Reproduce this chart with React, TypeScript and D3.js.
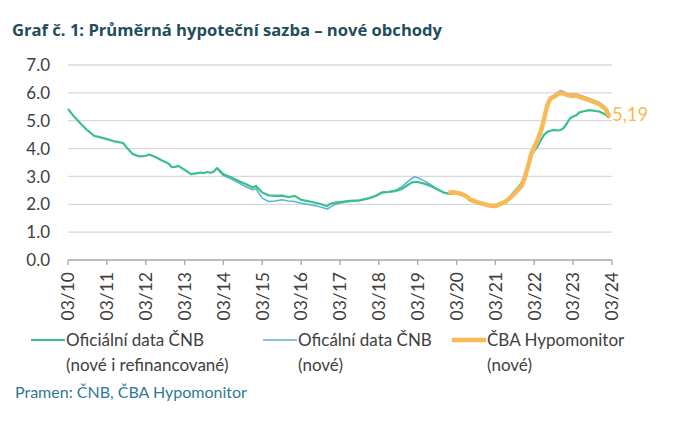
import React from "react";
import * as d3 from "d3";

// ---- data ----
const greenDates = ["2010-03","2010-05","2010-07","2010-09","2010-11","2011-01","2011-03","2011-05","2011-07","2011-08","2011-09","2011-11","2012-01","2012-03","2012-04","2012-06","2012-08","2012-10","2012-11","2012-12","2013-01","2013-03","2013-05","2013-07","2013-08","2013-09","2013-10","2013-11","2013-12","2014-01","2014-03","2014-05","2014-08","2014-10","2014-12","2015-01","2015-03","2015-05","2015-07","2015-09","2015-11","2015-12","2016-01","2016-03","2016-06","2016-09","2016-11","2016-12","2017-01","2017-03","2017-06","2017-09","2017-12","2018-02","2018-04","2018-06","2018-08","2018-10","2018-11","2019-01","2019-02","2019-03","2019-05","2019-07","2019-09","2019-11","2020-01","2020-03","2020-05","2020-07","2020-10","2021-01","2021-03","2021-05","2021-07","2021-09","2021-10","2021-11","2021-12","2022-01","2022-02","2022-03","2022-04","2022-05","2022-06","2022-07","2022-08","2022-09","2022-10","2022-11","2022-12","2023-01","2023-02","2023-03","2023-04","2023-05","2023-06","2023-08","2023-11","2024-01","2024-02"];
const greenValues = [5.42,5.13,4.88,4.65,4.46,4.40,4.34,4.27,4.22,4.20,4.05,3.80,3.72,3.74,3.79,3.70,3.57,3.46,3.33,3.34,3.38,3.24,3.08,3.12,3.14,3.12,3.16,3.13,3.18,3.30,3.08,2.99,2.82,2.72,2.60,2.66,2.42,2.32,2.30,2.31,2.26,2.28,2.30,2.16,2.09,2.01,1.93,2.02,2.05,2.08,2.12,2.14,2.22,2.30,2.42,2.44,2.47,2.55,2.62,2.78,2.80,2.80,2.74,2.66,2.54,2.42,2.37,2.42,2.35,2.20,2.05,1.96,1.93,2.04,2.20,2.48,2.60,2.75,2.95,3.30,3.75,3.92,4.07,4.30,4.49,4.60,4.64,4.67,4.65,4.66,4.73,4.90,5.09,5.15,5.20,5.30,5.33,5.38,5.33,5.22,5.10];

const blueDates = ["2014-01","2014-03","2014-05","2014-08","2014-10","2014-12","2015-01","2015-03","2015-05","2015-07","2015-09","2015-11","2016-01","2016-03","2016-06","2016-09","2016-11","2016-12","2017-01","2017-03","2017-06","2017-09","2017-12","2018-02","2018-04","2018-06","2018-08","2018-10","2018-11","2019-01","2019-02","2019-03","2019-05","2019-07","2019-09","2019-11","2020-01","2020-03","2020-05","2020-07","2020-10","2021-01","2021-03","2021-05","2021-07","2021-09","2021-10","2021-11","2021-12","2022-01","2022-02","2022-03","2022-04","2022-05","2022-06","2022-07","2022-08","2022-09","2022-10","2022-11","2022-12","2023-01","2023-02","2023-04","2023-05","2023-08","2023-11","2024-01","2024-02"];
const blueValues = [3.28,3.03,2.93,2.75,2.62,2.52,2.56,2.22,2.10,2.12,2.16,2.12,2.10,2.04,1.98,1.90,1.83,1.90,1.97,2.05,2.10,2.14,2.22,2.32,2.44,2.45,2.50,2.62,2.72,2.92,2.99,2.95,2.84,2.70,2.55,2.42,2.37,2.42,2.33,2.20,2.06,1.97,1.94,2.06,2.22,2.50,2.62,2.78,2.98,3.38,3.85,4.10,4.35,4.65,5.10,5.60,5.85,5.92,6.00,6.08,6.05,5.98,5.95,5.96,5.92,5.80,5.66,5.48,5.25];

const orangeDates = ["2020-01","2020-02","2020-04","2020-06","2020-07","2020-10","2021-01","2021-03","2021-04","2021-06","2021-08","2021-10","2021-11","2021-12","2022-01","2022-02","2022-03","2022-04","2022-05","2022-06","2022-07","2022-08","2022-09","2022-10","2022-11","2022-12","2023-01","2023-02","2023-04","2023-05","2023-08","2023-11","2024-01","2024-02"];
const orangeValues = [2.42,2.43,2.39,2.29,2.18,2.05,1.96,1.94,1.99,2.08,2.28,2.52,2.65,2.95,3.35,3.80,4.05,4.30,4.60,5.05,5.55,5.80,5.86,5.93,6.00,5.98,5.93,5.90,5.90,5.86,5.74,5.60,5.42,5.19];

const yTicks = [0, 1, 2, 3, 4, 5, 6, 7];
const xTickLabels = ["03/10","03/11","03/12","03/13","03/14","03/15","03/16","03/17","03/18","03/19","03/20","03/21","03/22","03/23","03/24"];
const lastLabel = "5,19";

const title = "Graf č. 1: Průměrná hypoteční sazba – nové obchody";
const source = "Pramen: ČNB, ČBA Hypomonitor";
const legendItems = [
  { lines: ["Oficiální data ČNB", "(nové i refinancované)"], color: "#3dbf8d", width: 2.2 },
  { lines: ["Oficální data ČNB", "(nové)"], color: "#5ab4d6", width: 1.6 },
  { lines: ["ČBA Hypomonitor", "(nové)"], color: "#f9b957", width: 4.5 },
];

const parse = d3.timeParse("%Y-%m");

export default function App() {
  const W = 679, H = 427;
  const x = d3.scaleTime().domain([new Date(2010, 2, 1), new Date(2024, 2, 1)]).range([68, 612]);
  const y = d3.scaleLinear().domain([0, 7]).range([260, 65]);
  const line = d3.line<[Date, number]>().x(d => x(d[0])).y(d => y(d[1])).curve(d3.curveLinear);

  const mk = (ds: string[], vs: number[]) => ds.map((d, i) => [parse(d) as Date, vs[i]] as [Date, number]);
  const green = mk(greenDates, greenValues);
  const blue = mk(blueDates, blueValues);
  const orange = mk(orangeDates, orangeValues);
  const last = orange[orange.length - 1];

  const tickDates = xTickLabels.map((_, i) => new Date(2010 + i, 2, 1));
  const font = "Lato, 'Open Sans', sans-serif";
  const legendX = [31, 263, 452];

  return (
    <svg width={W} height={H} style={{ position: "absolute", left: 0, top: 0, background: "#fff" }} fontFamily={font}>
      <text x={12} y={36} fontFamily="'Open Sans', sans-serif" fontWeight={700} fontSize={16} fill="#1f4d5c" textLength={430} lengthAdjust="spacingAndGlyphs">{title}</text>

      {yTicks.filter(t => t > 0).map(t => (
        <line key={t} x1={68} x2={612} y1={y(t)} y2={y(t)} stroke="#d9d9d9" strokeWidth={1.3} />
      ))}
      {yTicks.map(t => (
        <text key={"l" + t} x={50} y={y(t)} dy="0.36em" textAnchor="end" fontSize={17} fill="#404040">{t.toFixed(1)}</text>
      ))}

      <line x1={68} x2={612} y1={y(0)} y2={y(0)} stroke="#a6a6a6" strokeWidth={1.3} />
      {tickDates.map((d, i) => (
        <g key={i}>
          <line x1={x(d)} x2={x(d)} y1={y(0)} y2={y(0) + 5} stroke="#a6a6a6" strokeWidth={1.3} />
          <text transform={`translate(${x(d)},${272}) rotate(-90)`} dy="0.36em" textAnchor="end" fontSize={17.5} fill="#404040">{xTickLabels[i]}</text>
        </g>
      ))}

      <path d={line(blue) || ""} fill="none" stroke="#5ab4d6" strokeWidth={1.6} strokeLinejoin="round" />
      <path d={line(green) || ""} fill="none" stroke="#3dbf8d" strokeWidth={2.2} strokeLinejoin="round" />
      <path d={line(orange) || ""} fill="none" stroke="#f9b957" strokeWidth={4.5} strokeLinejoin="round" strokeLinecap="round" />
      <text x={x(last[0]) + 3} y={y(last[1]) - 1} dy="0.36em" fontSize={18.5} fill="#f9b957">{lastLabel}</text>

      {legendItems.map((it, i) => (
        <g key={i}>
          <line x1={legendX[i]} x2={legendX[i] + 34} y1={340} y2={340} stroke={it.color} strokeWidth={it.width} />
          <text x={legendX[i] + 35} y={346} fontSize={17} fill="#404040">{it.lines[0]}</text>
          <text x={legendX[i] + 35} y={371} fontSize={17} fill="#404040">{it.lines[1]}</text>
        </g>
      ))}

      <text x={15} y={398} fontSize={16} fill="#2e7a96">{source}</text>
    </svg>
  );
}
